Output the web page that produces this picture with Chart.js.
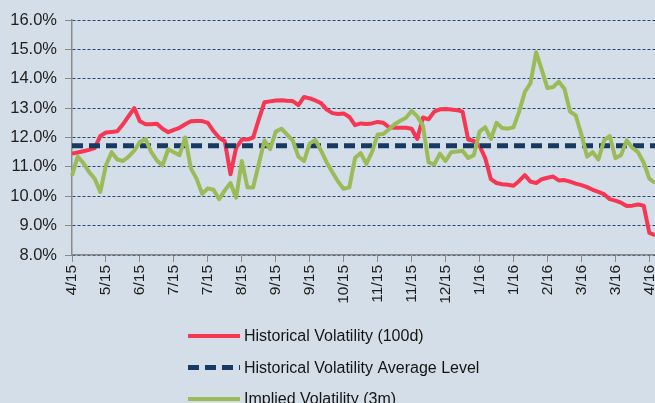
<!DOCTYPE html>
<html>
<head>
<meta charset="utf-8">
<script src="https://cdn.jsdelivr.net/npm/chart.js@4.4.1/dist/chart.umd.min.js"></script>
<style>
  html, body { margin: 0; padding: 0; background: #d3dee8; overflow: hidden; }
  #wrap { position: relative; width: 655px; height: 420px; }
</style>
</head>
<body>
<div id="wrap"><canvas id="vol"></canvas></div>
<script>
// axis labels, one every 6 points
const tickLabels = ['4/15', '5/15', '6/15', '7/15', '7/15', '8/15', '9/15', '9/15', '10/15',
    '11/15', '11/15', '12/15', '1/16', '1/16', '2/16', '3/16', '3/16', '4/16'];
const pointsPerTick = 6;

// historical volatility (100d), %
const histVol = [
    11.45, 11.49, 11.53, 11.58, 11.64, 12.05, 12.17, 12.19, 12.21, 12.45,
    12.73, 13.00, 12.55, 12.45, 12.45, 12.47, 12.30, 12.18, 12.26, 12.33,
    12.45, 12.55, 12.56, 12.56, 12.50, 12.22, 11.99, 11.87, 10.75, 11.65,
    11.93, 11.93, 12.00, 12.62, 13.20, 13.23, 13.26, 13.27, 13.25, 13.24,
    13.10, 13.38, 13.33, 13.26, 13.17, 12.95, 12.83, 12.80, 12.82, 12.70,
    12.42, 12.48, 12.46, 12.48, 12.53, 12.50, 12.35, 12.33, 12.33, 12.33,
    12.30, 11.95, 12.68, 12.62, 12.88, 12.96, 12.97, 12.95, 12.93, 12.88,
    11.93, 11.88, 11.72, 11.30, 10.58, 10.45, 10.41, 10.39, 10.36, 10.52,
    10.72, 10.50, 10.45, 10.58, 10.63, 10.67, 10.54, 10.55, 10.50, 10.43,
    10.38, 10.31, 10.22, 10.15, 10.07, 9.90, 9.85, 9.78, 9.67, 9.68,
    9.72, 9.68, 8.75, 8.68
];

// implied volatility (3m), %
const implVol = [
    10.70, 11.35, 11.13, 10.83, 10.60, 10.15, 11.05, 11.50, 11.25, 11.20,
    11.35, 11.55, 11.85, 11.95, 11.50, 11.22, 11.05, 11.60, 11.50, 11.40,
    12.00, 10.95, 10.60, 10.08, 10.27, 10.22, 9.90, 10.20, 10.45, 9.95,
    11.20, 10.30, 10.30, 11.10, 11.90, 11.60, 12.20, 12.30, 12.10, 11.90,
    11.35, 11.20, 11.80, 11.92, 11.55, 11.15, 10.82, 10.50, 10.25, 10.30,
    11.30, 11.47, 11.10, 11.50, 12.10, 12.12, 12.28, 12.45, 12.57, 12.67,
    12.90, 12.72, 12.40, 11.15, 11.08, 11.45, 11.20, 11.50, 11.52, 11.55,
    11.30, 11.40, 12.20, 12.35, 11.95, 12.50, 12.32, 12.30, 12.35, 12.88,
    13.55, 13.85, 14.90, 14.30, 13.68, 13.72, 13.90, 13.66, 12.88, 12.75,
    12.10, 11.35, 11.50, 11.25, 11.90, 12.05, 11.30, 11.40, 11.90, 11.65,
    11.50, 11.15, 10.60, 10.45
];

// average level of historical volatility, %
const histAvgLevel = 11.72;

const labels = histVol.map((v, i) => i % pointsPerTick === 0 ? tickLabels[i / pointsPerTick] : '');
const avgLine = histVol.map(() => histAvgLevel);

const axisGray = '#8a8a8a';
const gridNavy = '#24466d';

// legend as a vertical list under the axis
const legendRows = {
    id: 'legendRows',
    afterDraw(chart) {
        const ctx = chart.ctx;
        const top = chart.chartArea.bottom + 81;
        chart.data.datasets.forEach((ds, i) => {
            const y = top + i * 31.5;
            ctx.save();
            ctx.strokeStyle = ds.borderColor;
            ctx.lineWidth = ds.borderWidth;
            ctx.setLineDash(ds.borderDash || []);
            ctx.beginPath();
            ctx.moveTo(188, y);
            ctx.lineTo(240, y);
            ctx.stroke();
            ctx.setLineDash([]);
            ctx.fillStyle = '#141414';
            ctx.font = '16px "Liberation Sans", Arial, sans-serif';
            ctx.textBaseline = 'middle';
            ctx.fillText(ds.label, 244, y + 1);
            ctx.restore();
        });
    }
};

const config = {
    type: 'line',
    data: {
        labels: labels,
        datasets: [
            {
                label: 'Historical Volatility (100d)',
                data: histVol,
                borderColor: 'rgb(246,54,82)',
                borderWidth: 4,
                order: 2
            },
            {
                label: 'Historical Volatility Average Level',
                data: avgLine,
                borderColor: '#173a62',
                borderWidth: 5,
                borderDash: [11, 6],
                borderCapStyle: 'butt',
                order: 1
            },
            {
                label: 'Implied Volatility (3m)',
                data: implVol,
                borderColor: 'rgb(155,187,89)',
                borderWidth: 4,
                order: 0
            }
        ]
    },
    options: {
        responsive: true,
        maintainAspectRatio: false,
        animation: false,
        layout: { padding: { top: 20, right: 0, bottom: 107, left: 0 } },
        elements: {
            point: { radius: 0 },
            line: { tension: 0, borderJoinStyle: 'round' }
        },
        plugins: {
            legend: { display: false },
            tooltip: { enabled: false }
        },
        scales: {
            x: {
                offset: false,
                afterBuildTicks: (scale) => {
                    scale.ticks = scale.ticks.filter(t => t.value % pointsPerTick === 0);
                },
                afterFit: (scale) => {
                    scale.height = 58;
                    scale.paddingLeft = 0;
                    scale.paddingRight = 0;
                },
                grid: {
                    drawOnChartArea: false,
                    drawTicks: true,
                    tickLength: 7,
                    tickColor: axisGray
                },
                border: { color: axisGray, width: 1.5 },
                ticks: {
                    autoSkip: false,
                    maxRotation: 90,
                    minRotation: 90,
                    padding: 3,
                    color: '#1e1e1e',
                    font: { family: '"Liberation Sans", Arial, sans-serif', size: 15.5 }
                }
            },
            y: {
                min: 8,
                max: 16,
                afterFit: (scale) => { scale.width = 72; },
                grid: {
                    color: gridNavy,
                    lineWidth: 1,
                    tickLength: 7,
                    tickColor: axisGray,
                    tickBorderDash: []
                },
                border: { color: axisGray, width: 1.5, dash: [3, 2] },
                ticks: {
                    stepSize: 1,
                    padding: 8,
                    color: '#1e1e1e',
                    font: { family: '"Liberation Sans", Arial, sans-serif', size: 16.5 },
                    callback: (v) => v.toFixed(1) + '%'
                }
            }
        }
    },
    plugins: [legendRows]
};

new Chart(document.getElementById('vol').getContext('2d'), config);
</script>
</body>
</html>
